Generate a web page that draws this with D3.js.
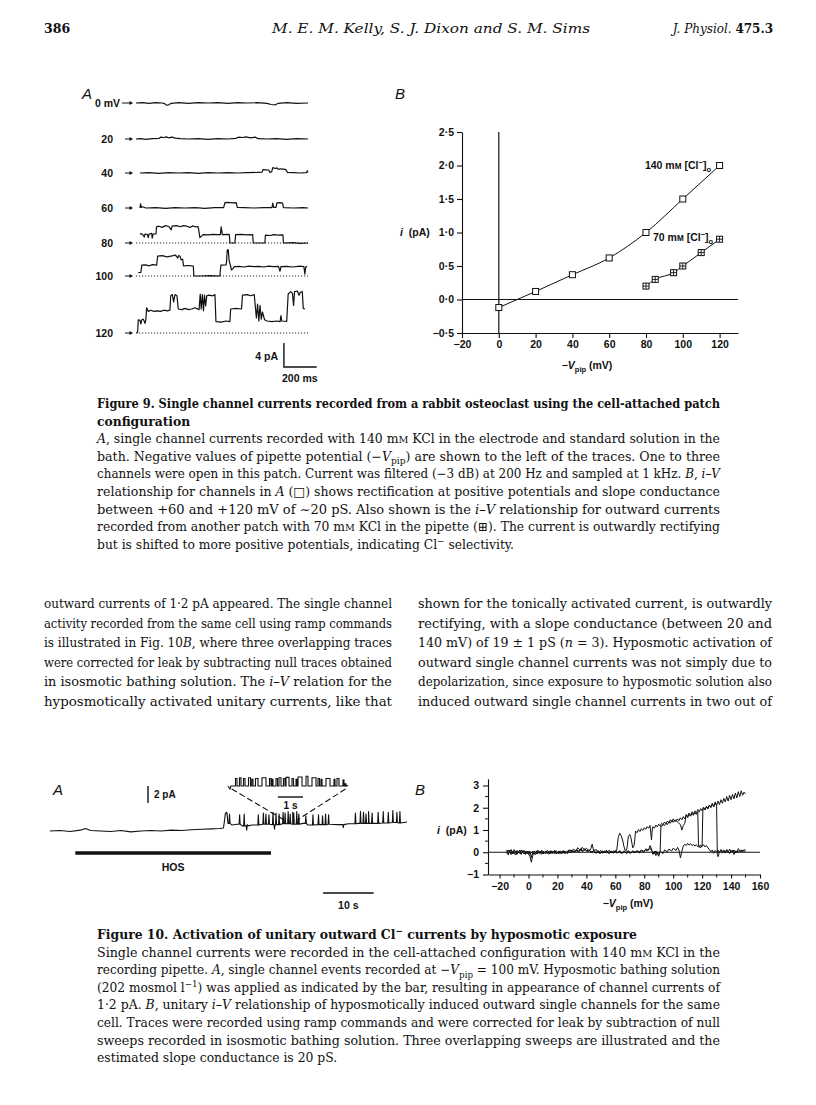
<!DOCTYPE html>
<html><head><meta charset="utf-8">
<script src="https://cdn.jsdelivr.net/npm/d3@7"></script>
<style>body{margin:0;background:#fff}svg{display:block}text{white-space:pre}</style>
</head><body>
<script>
// ================= DATA =================
// Fig 9A: pipette potentials and single-channel traces [time ms, current pA]
const traceLabels9 = ["0 mV","20","40","60","80","100","120"];
const dottedRows9 = ["80","100","120"];
const trace0 = [[0,0],[40,0.05],[80,-0.05],[120,0.05],[160,0],[175,-0.1],[185,-0.35],[200,-0.3],[215,-0.05],[260,0.05],[320,-0.05],[380,0.05],[440,0],[500,0.05],[560,-0.05],[620,0.05],[680,0],[740,0.05],[800,-0.05],[825,-0.25],[850,-0.3],[870,-0.05],[920,0.05],[980,-0.05],[1050,0]];
const trace20 = [[0,0],[30,0.05],[60,-0.05],[100,0.05],[140,0.1],[150,0.3],[170,0.25],[185,0.35],[200,0.2],[220,0.3],[240,0.15],[270,0.05],[320,0],[380,0.05],[440,-0.05],[500,0.05],[560,0],[610,0.1],[625,0.3],[650,0.25],[670,0.35],[700,0.2],[730,0.3],[745,0.05],[800,0],[860,0.05],[920,-0.05],[980,0.05],[1050,0]];
const trace40 = [[24,0],[80,0.05],[140,-0.05],[200,0.05],[260,0],[320,0.05],[380,-0.05],[440,0.05],[500,0],[560,0.05],[620,0],[680,0.05],[740,0.1],[770,0.15],[775,0.55],[810,0.5],[818,0.1],[828,0.2],[835,0.9],[850,0.75],[860,0.85],[870,0.6],[880,0.7],[900,0.65],[915,0.55],[925,0.1],[960,0.05],[1000,0],[1040,0.05],[1045,0.35],[1050,0.1]];
const trace60 = [[24,0],[28,0.7],[32,0.1],[40,0.2],[60,0],[120,0.05],[180,-0.05],[240,0.05],[300,0],[360,0.05],[420,-0.05],[480,0.05],[535,0.05],[543,0.9],[560,0.95],[590,0.85],[612,0.9],[618,0.1],[660,0.05],[720,0],[780,0.05],[830,0.05],[835,0.8],[840,0.1],[855,0.1],[860,0.85],[880,0.9],[895,0.8],[900,0.05],[960,0],[1020,0.05],[1050,0]];
const trace80 = [[24,1.55],[40,1.45],[50,1.0],[55,1.5],[70,1.4],[75,0.9],[80,1.5],[96,1.6],[99,0.8],[105,1.5],[122,1.5],[125,2.7],[140,2.8],[160,2.6],[180,2.9],[200,2.75],[215,2.2],[220,2.8],[250,2.9],[270,2.7],[290,2.9],[310,2.8],[330,2.6],[345,2.85],[360,2.7],[378,2.75],[382,2.3],[390,0.9],[398,1.1],[410,1.4],[440,1.35],[470,1.45],[500,1.4],[515,1.4],[520,2.7],[527,1.4],[560,1.45],[570,1.4],[573,0],[604,0],[608,1.4],[640,1.45],[680,1.35],[712,1.4],[716,0],[787,0],[790,1.3],[820,1.25],[840,1.4],[870,1.3],[897,1.35],[900,0],[960,0.05],[1000,-0.05],[1050,0]];
const trace100 = [[14,0.55],[30,0.6],[35,1.8],[60,1.85],[80,1.7],[100,1.9],[126,1.8],[132,3.3],[160,3.4],[190,3.2],[220,3.35],[240,3.5],[255,3.0],[260,3.4],[269,3.3],[275,2.7],[285,2.8],[290,1.7],[320,1.75],[350,1.65],[353,0],[400,0],[450,0.05],[512,0],[518,1.8],[550,1.85],[553,2.5],[557,4.3],[563,4.4],[569,2.5],[575,1.9],[583,1.0],[590,1.2],[600,1.55],[630,1.6],[660,1.5],[690,1.65],[720,1.55],[750,1.6],[780,1.5],[810,1.65],[840,1.55],[870,1.6],[879,0.8],[885,1.55],[920,1.6],[960,1.5],[1000,1.65],[1025,1.55],[1031,0.3],[1036,1.5],[1045,1.6]];
const trace120 = [[4,0],[10,0.2],[14,2.2],[24,2.1],[30,1.5],[35,2.2],[45,2.3],[55,1.6],[60,2.2],[65,4.2],[75,3.6],[90,3.8],[110,3.6],[130,3.7],[150,3.6],[170,3.8],[190,3.7],[207,3.8],[212,6.2],[222,6.4],[230,5.2],[238,6.4],[250,6.2],[258,4.0],[280,3.9],[300,4.1],[320,3.9],[340,4.0],[360,4.2],[385,3.9],[392,6.5],[398,4.0],[405,6.4],[412,3.7],[418,6.3],[425,4.5],[432,6.2],[445,6.3],[470,6.2],[482,6.4],[488,1.9],[520,1.8],[550,2.0],[573,1.9],[578,4.0],[610,4.1],[644,4.0],[650,6.3],[680,6.4],[700,6.2],[722,6.4],[728,4.5],[735,2.5],[742,4.8],[750,2.0],[757,4.6],[765,2.3],[772,3.5],[785,2.2],[800,2.0],[830,1.9],[860,2.0],[880,1.9],[885,2.9],[890,2.0],[920,1.95],[929,6.5],[945,6.9],[955,6.6],[962,4.6],[968,6.9],[985,7.0],[995,6.3],[1003,6.8],[1015,6.9],[1021,4.1],[1031,4.0]];
const traces9 = [trace0, trace20, trace40, trace60, trace80, trace100, trace120];
const scaleBar9 = {pA: 4, ms: 200};

// Fig 9B: i-V relationships
const v140 = [0, 20, 40, 60, 80, 100, 120];
const i140 = [-0.12, 0.12, 0.37, 0.62, 1.0, 1.5, 2.0];
const v70 = [80, 85, 95, 100, 110, 120];
const i70 = [0.2, 0.3, 0.4, 0.5, 0.7, 0.9];
const yTicks9B = [-0.5, 0, 0.5, 1.0, 1.5, 2.0, 2.5];
const xTicks9B = [-20, 0, 20, 40, 60, 80, 100, 120];

// Fig 10A: main record (time s, current pA)
const mainBaseline = [[0,0],[2,0.05],[4,-0.05],[6,0.1],[7,0.3],[8,0.05],[10,0],[12,-0.05],[14,0.05],[16,-0.1],[18,0],[20,0.05],[22,0],[24,0.1],[26,0.05],[28,0.15],[30,0.2],[32,0.25],[33.5,0.3],[34.3,0.35],[34.5,1.2],[34.7,2.1],[35.2,0.9],[36,0.7],[37,0.8],[38,0.6],[39,0.75],[40,0.7],[42,0.8],[44,0.75],[46,0.85],[48,0.8],[50,0.9],[51,0.7],[53,0.75],[55,0.8],[57,0.75],[59,0.85],[61,0.9],[63,0.9],[65,0.95],[67,1.0],[69,0.95],[70.6,1.05]];
const mainSpikeT = [34.9,35.5,37.5,38.4,41.2,42.2,42.7,43.3,44.1,44.7,45.3,46.1,46.5,47.1,47.5,48.0,48.2,48.8,49.2,50.6,52.0,53.1,53.9,54.5,55.1,60.4,61.4,62.0,62.5,63.0,63.7,64.9,65.9,66.9,67.8,68.6,69.2,38.9,44.4,58.0];
const mainSpikePeak = [2.2,2.0,1.9,2.0,1.9,2.1,2.0,1.9,2.2,2.1,2.0,2.2,2.1,2.3,2.0,2.2,2.1,2.3,2.0,1.8,1.9,1.9,1.8,2.0,1.9,2.1,2.3,2.2,2.0,2.3,2.1,2.2,2.3,2.2,2.4,2.2,2.3,0.1,0.2,0.4];
const hosPeriod = [5, 43.7];
// inset (expanded record): openings start, end (s), level (pA)
const insetOpenStart = [0.3,0.46,0.62,0.82,0.95,1.1,1.36,1.66,1.76,1.92,2.04,2.22,2.32,2.56,2.72,2.8,3.12,3.36,3.6,3.72,3.92,4.24,4.36,4.6,4.68];
const insetOpenEnd   = [0.36,0.52,0.68,0.9,1.0,1.2,1.52,1.72,1.8,1.98,2.12,2.28,2.44,2.62,2.76,2.96,3.2,3.52,3.66,3.76,4.08,4.28,4.44,4.64,4.72];
const insetOpenLevel = [1.0,1.1,1.0,1.1,0.9,1.0,1.1,1.0,0.9,1.0,1.1,1.0,1.15,1.0,0.9,1.2,1.3,1.1,1.0,0.9,1.0,0.9,1.0,0.8,0.3];

// Fig 10B: three ramp sweeps [mV, pA]
const sweepA = [[-15,0.08],[-14,-0.12],[-13,0.1],[-11,-0.06],[-10,0.12],[-8,-0.08],[-7,0.06],[-5,-0.1],[-4,0.08],[-2,-0.06],[-1,0.05],[0,-0.05],[1,-0.2],[2,-0.45],[3,-0.12],[4,0.06],[6,-0.08],[7,0.07],[9,-0.09],[10,0.05],[12,-0.06],[13,0.08],[15,-0.07],[16,0.06],[18,-0.05],[19,0.07],[21,-0.08],[22,0.05],[24,-0.04],[25,0.06],[27,-0.06],[28,0.08],[30,0.02],[31,0.14],[33,0.05],[34,0.2],[36,0.08],[37,0.22],[39,0.1],[40,0.18],[42,0.06],[43,0.15],[44,0.36],[45,0.08],[47,0.12],[48,-0.03],[50,0.08],[51,-0.04],[53,0.07],[54,0.0],[56,0.09],[57,-0.03],[59,0.06],[60,0.01],[61,0.1],[62,0.65],[63,0.85],[64,0.75],[65,0.55],[66,0.25],[67,0.05],[68,0.15],[69,0.7],[70,0.8],[71,0.6],[72,0.2],[73,0.3],[74,0.95],[75,0.88],[76,1.02],[77,0.93],[78,1.06],[79,0.98],[80,1.1],[81,1.03],[82,1.15],[83,1.08],[84,1.2],[85,0.55],[85.5,1.0],[86,1.15],[87,1.08],[88,1.22],[89,1.14],[90,1.26],[91,1.18],[92,1.3],[93,1.24],[94,1.36],[95,1.28],[96,1.4],[97,1.33],[98,1.46],[99,1.38],[100,1.5],[101,1.4],[102,1.46],[103,1.35],[104,1.3],[105,1.24],[106,1.0],[107,1.2],[108,1.3],[109,1.7],[110,1.6],[111,1.76],[112,1.64],[113,1.82],[114,1.7],[115,1.86],[116,1.75],[117,1.92],[118,1.8],[119,1.96],[120,1.86],[121,2.02],[122,1.9],[123,2.06],[124,1.94],[125,2.12],[126,2.0],[127,2.2],[128,2.04],[129,2.26],[130,2.1],[131,2.3],[132,2.14],[133,2.36],[134,2.2],[135,2.42],[136,2.26],[137,2.5],[138,2.3],[139,2.56],[140,2.36],[141,2.6],[142,2.4],[143,2.66],[144,2.44],[145,2.72],[146,2.5],[147,2.76],[148,2.56],[149,2.7],[150,2.62]];
const sweepB = [[-15,-0.05],[-14,0.1],[-12,-0.1],[-11,0.05],[-9,-0.12],[-8,0.08],[-6,-0.05],[-5,0.1],[-3,-0.08],[-2,0.06],[0,-0.1],[1,0.04],[2,-0.25],[3,0.02],[5,-0.1],[6,0.06],[8,-0.06],[9,0.09],[11,-0.05],[12,0.06],[14,-0.09],[15,0.04],[17,-0.06],[18,0.08],[20,-0.04],[21,0.06],[23,-0.07],[24,0.05],[26,-0.05],[27,0.04],[29,-0.02],[30,0.1],[32,0.0],[33,0.12],[35,0.02],[36,0.15],[38,0.05],[39,0.12],[41,0.02],[42,0.1],[44,-0.02],[45,0.08],[47,-0.04],[48,0.07],[50,-0.05],[51,0.06],[53,-0.03],[54,0.08],[56,-0.05],[57,0.05],[59,-0.04],[60,0.06],[62,-0.03],[63,0.07],[65,-0.05],[66,0.04],[68,-0.06],[69,0.05],[71,-0.03],[72,0.06],[74,0.0],[75,0.08],[77,-0.04],[78,0.1],[80,0.02],[81,0.15],[83,0.1],[84,0.3],[85,0.15],[86,-0.1],[87,0.05],[88,-0.15],[89,0.02],[90,-0.1],[91,0.05],[91.5,1.2],[92,1.15],[93,1.25],[94,1.2],[95,1.3],[96,1.24],[97,1.36],[98,1.3],[99,1.42],[100,1.34],[101,1.44],[102,1.38],[103,1.5],[104,1.42],[105,1.55],[106,1.46],[107,1.6],[108,1.5],[109,1.66],[110,1.56],[111,1.7],[112,1.62],[113,1.74],[114,1.66],[115,1.78],[116,1.7],[117,1.8],[117.5,0.3],[118,0.22],[119,0.32],[120,0.26],[121,0.34],[122,0.24],[123,0.3],[124,0.2],[125,0.12],[126,0.02],[127,0.1],[128,-0.05],[129,0.08],[130,0.0],[131,0.1],[132,-0.02],[133,0.12],[134,0.04],[135,0.1],[136,-0.04],[137,0.08],[138,0.0],[139,0.14],[140,0.02],[141,0.1],[142,-0.1],[143,0.06],[144,0.0],[145,0.16],[146,0.04],[147,0.1],[148,0.02],[149,0.12],[150,0.08]];
const sweepC = [[-15,0.1],[-14,-0.05],[-12,0.12],[-11,-0.08],[-9,0.06],[-8,-0.1],[-6,0.1],[-5,-0.04],[-3,0.08],[-2,-0.1],[0,0.06],[1,-0.08],[3,0.04],[4,-0.1],[6,0.08],[7,-0.04],[9,0.06],[10,-0.08],[12,0.05],[13,-0.06],[15,0.07],[16,-0.05],[18,0.06],[19,-0.08],[21,0.04],[22,-0.05],[24,0.07],[25,-0.06],[27,0.05],[28,0.1],[30,0.08],[31,0.0],[33,0.1],[34,0.02],[36,0.14],[37,0.04],[39,0.16],[40,0.06],[42,0.1],[43,0.0],[45,0.06],[46,-0.04],[48,0.05],[49,-0.06],[51,0.04],[52,-0.03],[54,0.06],[55,-0.05],[57,0.05],[58,-0.02],[60,0.07],[61,-0.04],[63,0.05],[64,-0.06],[66,0.06],[67,-0.02],[69,0.07],[70,-0.05],[72,0.04],[73,-0.03],[75,0.06],[76,0.0],[78,0.08],[79,0.02],[81,0.12],[82,0.05],[84,0.18],[85,0.08],[87,-0.08],[88,0.06],[90,-0.18],[91,0.04],[93,-0.06],[94,0.1],[96,0.02],[97,0.14],[99,0.06],[100,0.18],[102,0.08],[103,0.22],[104,0.1],[105,-0.25],[106,0.05],[107,0.28],[108,0.36],[109,0.3],[110,0.4],[111,0.32],[112,0.38],[113,0.3],[114,0.35],[115,0.28],[116,0.34],[117,0.25],[118,0.3],[119,0.2],[120,0.28],[120.5,1.9],[121,2.0],[122,1.92],[123,2.06],[124,1.98],[125,2.12],[126,2.04],[127,2.16],[128,2.06],[129,2.2],[130,2.1],[130.5,-0.1],[131,-0.2],[132,0.02],[133,0.1],[134,-0.04],[135,0.08],[136,0.0],[137,0.12],[138,0.04],[139,-0.06],[140,0.08],[141,0.0],[142,0.1],[143,-0.02],[144,0.06],[145,0.0],[146,0.08],[147,0.02],[148,0.1],[149,0.04],[150,0.06]];
const sweeps10 = [sweepA, sweepB, sweepC];
const yTicks10B = [-1, 0, 1, 2, 3];
const xTicks10B = [-20, 0, 20, 40, 60, 80, 100, 120, 140, 160];

// Text
const headerLeft = "386";
const headerMid = "M. E. M. Kelly, S. J. Dixon and S. M. Sims";
const cap9 = [
 "Figure 9. Single channel currents recorded from a rabbit osteoclast using the cell-attached patch",
 "configuration",
 "*A*, single channel currents recorded with 140 m~{m} KCl in the electrode and standard solution in the",
 "bath. Negative values of pipette potential (−*V*_{pip}) are shown to the left of the traces. One to three",
 "channels were open in this patch. Current was filtered (−3 dB) at 200 Hz and sampled at 1 kHz. *B*, *i–V*",
 "relationship for channels in *A* (□) shows rectification at positive potentials and slope conductance",
 "between +60 and +120 mV of ∼20 pS. Also shown is the *i–V* relationship for outward currents",
 "recorded from another patch with 70 m~{m} KCl in the pipette (⊞). The current is outwardly rectifying",
 "but is shifted to more positive potentials, indicating Cl^{−} selectivity."
];
const cap9Bold = [0, 1];
const cap9Ragged = [1, 8];
const bodyLeft = [
 "outward currents of 1·2 pA appeared. The single channel",
 "activity recorded from the same cell using ramp commands",
 "is illustrated in Fig. 10*B*, where three overlapping traces",
 "were corrected for leak by subtracting null traces obtained",
 "in isosmotic bathing solution. The *i–V* relation for the",
 "hyposmotically activated unitary currents, like that"
];
const bodyRight = [
 "shown for the tonically activated current, is outwardly",
 "rectifying, with a slope conductance (between 20 and",
 "140 mV) of 19 ± 1 pS (*n* = 3). Hyposmotic activation of",
 "outward single channel currents was not simply due to",
 "depolarization, since exposure to hyposmotic solution also",
 "induced outward single channel currents in two out of"
];
const cap10 = [
 "Figure 10. Activation of unitary outward Cl^{−} currents by hyposmotic exposure",
 "Single channel currents were recorded in the cell-attached configuration with 140 m~{m} KCl in the",
 "recording pipette. *A*, single channel events recorded at −*V*_{pip} = 100 mV. Hyposmotic bathing solution",
 "(202 mosmol l^{−1}) was applied as indicated by the bar, resulting in appearance of channel currents of",
 "1·2 pA. *B*, unitary *i–V* relationship of hyposmotically induced outward single channels for the same",
 "cell. Traces were recorded using ramp commands and were corrected for leak by subtraction of null",
 "sweeps recorded in isosmotic bathing solution. Three overlapping sweeps are illustrated and the",
 "estimated slope conductance is 20 pS."
];
const cap10Bold = [0];
const cap10Ragged = [0, 7];

// ================= DRAWING =================
const W = 816, H = 1105;
const SERIF = "'DejaVu Serif','Liberation Serif',serif";
const SANS = "'Liberation Sans',Arial,Helvetica,sans-serif";
const INK = "#111";
const svg = d3.select("body").append("svg").attr("width", W).attr("height", H);
svg.append("rect").attr("width", W).attr("height", H).attr("fill", "#fff");

function rich(g, x, y, str, o) {
  const t = g.append("text").attr("x", x).attr("y", y)
    .attr("font-family", o.family || SERIF).attr("font-size", o.size)
    .attr("font-weight", o.weight || "normal").attr("text-anchor", o.anchor || "start")
    .attr("fill", INK);
  if (o.style) t.attr("font-style", o.style);
  if (o.stretch) t.attr("font-stretch", o.stretch);
  const parts = str.split(/(\*[^*]+\*|_\{[^}]*\}|\^\{[^}]*\}|~\{[^}]*\})/).filter(s => s.length);
  let shift = 0;
  parts.forEach(p => {
    let txt = p, italic = false, sz = null, ns = 0;
    if (p.length > 2 && p[0] === "*" && p[p.length - 1] === "*") { txt = p.slice(1, -1); italic = true; }
    else if (p.startsWith("_{")) { txt = p.slice(2, -1); sz = 0.72; ns = o.size * 0.28; }
    else if (p.startsWith("^{")) { txt = p.slice(2, -1); sz = 0.72; ns = -o.size * 0.38; }
    else if (p.startsWith("~{")) { txt = p.slice(2, -1).toUpperCase(); sz = 0.78; }
    const ts = t.append("tspan").text(txt);
    if (italic) ts.attr("font-style", "italic");
    if (sz) ts.attr("font-size", o.size * sz);
    const dy = ns - shift;
    if (dy) ts.attr("dy", dy);
    shift = ns;
  });
  return t;
}

function para(lines, x, y0, lh, width, size, bold, ragged) {
  const g = svg.append("g");
  const nodes = lines.map((s, i) => ({
    t: rich(g, x, y0 + i * lh, s, {size, weight: bold.includes(i) ? "bold" : "normal", stretch: "semi-condensed"}),
    just: !ragged.includes(i)
  }));
  const ratios = nodes.filter(n => n.just).map(n => width / n.t.node().getComputedTextLength());
  const r = ratios.length ? d3.mean(ratios) : 1;
  nodes.forEach(n => {
    const L = n.t.node().getComputedTextLength();
    n.t.attr("textLength", n.just ? width : L * r).attr("lengthAdjust", "spacingAndGlyphs");
  });
}

// ---- Header ----
svg.append("text").attr("x", 44).attr("y", 33).attr("font-family", SERIF).attr("font-weight", "bold")
  .attr("font-size", 12.5).attr("fill", INK).text(headerLeft);
svg.append("text").attr("x", 431).attr("y", 33).attr("font-family", SERIF).attr("font-style", "italic")
  .attr("font-size", 13.5).attr("text-anchor", "middle").attr("fill", INK).text(headerMid)
  .attr("textLength", 318).attr("lengthAdjust", "spacingAndGlyphs");
{
  const t = svg.append("text").attr("x", 773).attr("y", 33).attr("font-family", SERIF)
    .attr("font-size", 12).attr("text-anchor", "end").attr("fill", INK);
  t.append("tspan").attr("font-style", "italic").text("J. Physiol. ");
  t.append("tspan").attr("font-weight", "bold").text("475.3");
}

// ---- Fig 9A ----
{
  const g = svg.append("g");
  const rowY = [103, 139, 173, 208, 243, 276, 333];
  const x = d3.scaleLinear().domain([0, 1050]).range([136, 308]);
  g.append("text").attr("x", 82).attr("y", 99).attr("font-family", SANS).attr("font-style", "italic")
    .attr("font-size", 15).attr("fill", INK).text("A");
  traceLabels9.forEach((lab, i) => {
    const yb = rowY[i];
    const y = d3.scaleLinear().domain([0, 1]).range([yb, yb - 6]);
    g.append("text").attr("x", i === 0 ? 120 : 113).attr("y", yb + 4).attr("text-anchor", "end")
      .attr("font-family", SANS).attr("font-weight", "bold").attr("font-size", 10.5).attr("fill", INK).text(lab);
    const ax0 = i === 0 ? 122 : 125;
    g.append("line").attr("x1", ax0).attr("x2", 132).attr("y1", yb).attr("y2", yb).attr("stroke", INK).attr("stroke-width", 1);
    g.append("path").attr("d", `M133,${yb} l-3.5,-2 v4 z`).attr("fill", INK);
    if (dottedRows9.includes(lab)) {
      g.append("line").attr("x1", x(0)).attr("x2", x(1050)).attr("y1", yb).attr("y2", yb)
        .attr("stroke", INK).attr("stroke-width", 0.9).attr("stroke-dasharray", "1.2,1.8");
    }
    g.append("path").datum(traces9[i])
      .attr("d", d3.line().x(d => x(d[0])).y(d => y(d[1])))
      .attr("fill", "none").attr("stroke", INK).attr("stroke-width", 1.2).attr("stroke-linejoin", "round");
  });
  const yS = d3.scaleLinear().domain([0, 1]).range([367, 361]);
  const t0 = 903;
  g.append("path").attr("d", `M${x(t0)},${yS(scaleBar9.pA)} V${yS(0)} H${x(t0 + scaleBar9.ms)}`)
    .attr("fill", "none").attr("stroke", INK).attr("stroke-width", 1.4);
  g.append("text").attr("x", 278).attr("y", 360).attr("text-anchor", "end").attr("font-family", SANS)
    .attr("font-weight", "bold").attr("font-size", 10.5).attr("fill", INK).text(scaleBar9.pA + " pA");
  g.append("text").attr("x", 282).attr("y", 382).attr("font-family", SANS)
    .attr("font-weight", "bold").attr("font-size", 10.5).attr("fill", INK).text(scaleBar9.ms + " ms");
}

// ---- Fig 9B ----
{
  const g = svg.append("g");
  const x = d3.scaleLinear().domain([-20, 130]).range([462, 738]);
  const y = d3.scaleLinear().domain([-0.5, 2.5]).range([333, 132]);
  const fmt = d => d3.format(".1f")(d).replace(".", "·").replace("-", "−");
  g.append("text").attr("x", 395).attr("y", 99).attr("font-family", SANS).attr("font-style", "italic")
    .attr("font-size", 15).attr("fill", INK).text("B");
  const ay = g.append("g").attr("transform", `translate(${x(-20)},0)`)
    .call(d3.axisLeft(y).tickValues(yTicks9B).tickFormat(fmt).tickSize(5).tickSizeOuter(0).tickPadding(3));
  const ax = g.append("g").attr("transform", `translate(0,${y(-0.5)})`)
    .call(d3.axisBottom(x).tickValues(xTicks9B).tickFormat(d => d < 0 ? "−" + Math.abs(d) : d).tickSize(5).tickSizeOuter(0).tickPadding(3));
  [ay, ax].forEach(a => {
    a.selectAll("path,line").attr("stroke", INK).attr("stroke-width", 1.1);
    a.selectAll("text").attr("font-family", SANS).attr("font-weight", "bold").attr("font-size", 10.5).attr("fill", INK);
  });
  g.append("line").attr("x1", x(-20)).attr("x2", x(130)).attr("y1", y(0)).attr("y2", y(0)).attr("stroke", INK).attr("stroke-width", 1.1);
  g.append("line").attr("x1", x(0)).attr("x2", x(0)).attr("y1", y(-0.5)).attr("y2", y(2.5)).attr("stroke", INK).attr("stroke-width", 1.2);
  const d140 = v140.map((v, i) => [v, i140[i]]);
  const d70 = v70.map((v, i) => [v, i70[i]]);
  const line = d3.line().x(d => x(d[0])).y(d => y(d[1])).curve(d3.curveMonotoneX);
  g.append("path").datum(d140).attr("d", line).attr("fill", "none").attr("stroke", INK).attr("stroke-width", 1);
  g.append("path").datum(d70).attr("d", line).attr("fill", "none").attr("stroke", INK).attr("stroke-width", 1);
  const s = 3;
  g.selectAll(".m140").data(d140).join("rect").attr("x", d => x(d[0]) - s).attr("y", d => y(d[1]) - s)
    .attr("width", 2 * s).attr("height", 2 * s).attr("fill", "#fff").attr("stroke", INK).attr("stroke-width", 1);
  const m70 = g.selectAll(".m70").data(d70).join("g").attr("transform", d => `translate(${x(d[0])},${y(d[1])})`);
  m70.append("rect").attr("x", -s).attr("y", -s).attr("width", 2 * s).attr("height", 2 * s)
    .attr("fill", "#fff").attr("stroke", INK).attr("stroke-width", 1);
  m70.append("path").attr("d", `M${-s},0H${s}M0,${-s}V${s}`).attr("stroke", INK).attr("stroke-width", 0.9);
  rich(g, 711, 169, "140 m~{m} [Cl^{−}]_{o}", {family: SANS, size: 10.5, weight: "bold", anchor: "end"});
  rich(g, 653, 241, "70 m~{m} [Cl^{−}]_{o}", {family: SANS, size: 10.5, weight: "bold"});
  rich(g, 400, 236, "*i*  (pA)", {family: SANS, size: 10.5, weight: "bold"});
  rich(g, 587, 369, "−*V*_{pip} (mV)", {family: SANS, size: 10.5, weight: "bold", anchor: "middle"});
}

// ---- Caption 9 ----
para(cap9, 97, 408, 17.6, 623, 12.5, cap9Bold, cap9Ragged);

// ---- Body text ----
para(bodyLeft, 44, 608, 19.6, 348, 13.5, [], []);
para(bodyRight, 418, 608, 19.6, 354, 13.5, [], []);

// ---- Fig 10A ----
{
  const g = svg.append("g");
  const t = d3.scaleLinear().domain([0, 70.6]).range([50, 407]);
  const y = d3.scaleLinear().domain([0, 1]).range([831, 822.5]);
  g.append("text").attr("x", 53).attr("y", 795).attr("font-family", SANS).attr("font-style", "italic")
    .attr("font-size", 15).attr("fill", INK).text("A");
  const pts = mainBaseline.map(d => d.slice());
  mainSpikeT.forEach((ts, i) => {
    let b = mainBaseline[0][1];
    mainBaseline.forEach(d => { if (d[0] <= ts) b = d[1]; });
    pts.push([ts - 0.1, b], [ts, mainSpikePeak[i]], [ts + 0.1, b]);
  });
  pts.sort((a, b) => a[0] - b[0]);
  g.append("path").datum(pts).attr("d", d3.line().x(d => t(d[0])).y(d => y(d[1])))
    .attr("fill", "none").attr("stroke", INK).attr("stroke-width", 1.1).attr("stroke-linejoin", "round");
  g.append("line").attr("x1", t(hosPeriod[0])).attr("x2", t(hosPeriod[1])).attr("y1", 853).attr("y2", 853)
    .attr("stroke", INK).attr("stroke-width", 3.5);
  g.append("text").attr("x", t((hosPeriod[0] + hosPeriod[1]) / 2)).attr("y", 871).attr("text-anchor", "middle")
    .attr("font-family", SANS).attr("font-weight", "bold").attr("font-size", 10.5).attr("fill", INK).text("HOS");
  g.append("line").attr("x1", t(54)).attr("x2", t(64)).attr("y1", 893).attr("y2", 893).attr("stroke", INK).attr("stroke-width", 1.4);
  g.append("text").attr("x", t(59)).attr("y", 909).attr("text-anchor", "middle").attr("font-family", SANS)
    .attr("font-weight", "bold").attr("font-size", 10.5).attr("fill", INK).text("10 s");
  g.append("line").attr("x1", 148).attr("x2", 148).attr("y1", 803).attr("y2", 803 - 2 * 8.5).attr("stroke", INK).attr("stroke-width", 1.4);
  g.append("text").attr("x", 154).attr("y", 798).attr("font-family", SANS).attr("font-weight", "bold")
    .attr("font-size", 10).attr("fill", INK).text("2 pA");
  const ti = d3.scaleLinear().domain([0, 4.8]).range([228, 348]);
  const yi = d3.scaleLinear().domain([0, 1]).range([786, 778.5]);
  const ip = [[0, 0], [0.08, -0.4], [0.12, 0]];
  insetOpenStart.forEach((s0, i) => {
    ip.push([s0, 0], [s0, insetOpenLevel[i]], [insetOpenEnd[i], insetOpenLevel[i]], [insetOpenEnd[i], 0]);
  });
  ip.push([4.8, 0.05]);
  g.append("path").datum(ip).attr("d", d3.line().x(d => ti(d[0])).y(d => yi(d[1])))
    .attr("fill", "none").attr("stroke", INK).attr("stroke-width", 1.1);
  g.append("line").attr("x1", ti(2)).attr("x2", ti(3)).attr("y1", 797).attr("y2", 797).attr("stroke", INK).attr("stroke-width", 1.4);
  g.append("text").attr("x", ti(2.5)).attr("y", 809).attr("text-anchor", "middle").attr("font-family", SANS)
    .attr("font-weight", "bold").attr("font-size", 10).attr("fill", INK).text("1 s");
  g.append("line").attr("x1", ti(0.15)).attr("y1", 789).attr("x2", t(46.3)).attr("y2", 820)
    .attr("stroke", INK).attr("stroke-width", 1.1).attr("stroke-dasharray", "6,3");
  g.append("line").attr("x1", ti(4.7)).attr("y1", 789).attr("x2", t(48.9)).attr("y2", 820)
    .attr("stroke", INK).attr("stroke-width", 1.1).attr("stroke-dasharray", "6,3");
}

// ---- Fig 10B ----
{
  const g = svg.append("g");
  const x = d3.scaleLinear().domain([-28, 160]).range([488, 760]);
  const y = d3.scaleLinear().domain([-1, 3.3]).range([874.5, 778.8]);
  g.append("text").attr("x", 415).attr("y", 795).attr("font-family", SANS).attr("font-style", "italic")
    .attr("font-size", 15).attr("fill", INK).text("B");
  const ay = g.append("g").attr("transform", `translate(${x(-28)},0)`)
    .call(d3.axisLeft(y).tickValues(yTicks10B).tickFormat(d => d < 0 ? "−" + Math.abs(d) : d).tickSize(5).tickSizeOuter(0).tickPadding(4));
  const ax = g.append("g").attr("transform", `translate(0,${y(-1)})`)
    .call(d3.axisBottom(x).tickValues(xTicks10B).tickFormat(d => d < 0 ? "−" + Math.abs(d) : d).tickSize(4).tickSizeOuter(0).tickPadding(4));
  [ay, ax].forEach(a => {
    a.selectAll("path,line").attr("stroke", INK).attr("stroke-width", 1.1);
    a.selectAll("text").attr("font-family", SANS).attr("font-weight", "bold").attr("font-size", 10.5).attr("fill", INK);
  });
  g.selectAll(".ym").data(yTicks10B.map(v => v + 0.5).filter(v => v <= 3.3)).join("line")
    .attr("x1", x(-28) - 3).attr("x2", x(-28)).attr("y1", d => y(d)).attr("y2", d => y(d)).attr("stroke", INK);
  g.selectAll(".xm").data(xTicks10B.slice(0, -1).map(v => v + 10)).join("line")
    .attr("x1", d => x(d)).attr("x2", d => x(d)).attr("y1", y(-1)).attr("y2", y(-1) + 3).attr("stroke", INK);
  g.append("line").attr("x1", x(-28)).attr("x2", x(160)).attr("y1", y(0)).attr("y2", y(0)).attr("stroke", INK).attr("stroke-width", 1.1);
  const line = d3.line().x(d => x(d[0])).y(d => y(d[1]));
  sweeps10.forEach(sw => g.append("path").datum(sw).attr("d", line).attr("fill", "none")
    .attr("stroke", INK).attr("stroke-width", 1).attr("stroke-linejoin", "round"));
  rich(g, 437, y(1) + 4, "*i*  (pA)", {family: SANS, size: 10.5, weight: "bold"});
  rich(g, 628, 907, "−*V*_{pip} (mV)", {family: SANS, size: 10.5, weight: "bold", anchor: "middle"});
}

// ---- Caption 10 ----
para(cap10, 97, 939, 17.6, 623, 12.5, cap10Bold, cap10Ragged);
</script>
</body></html>
